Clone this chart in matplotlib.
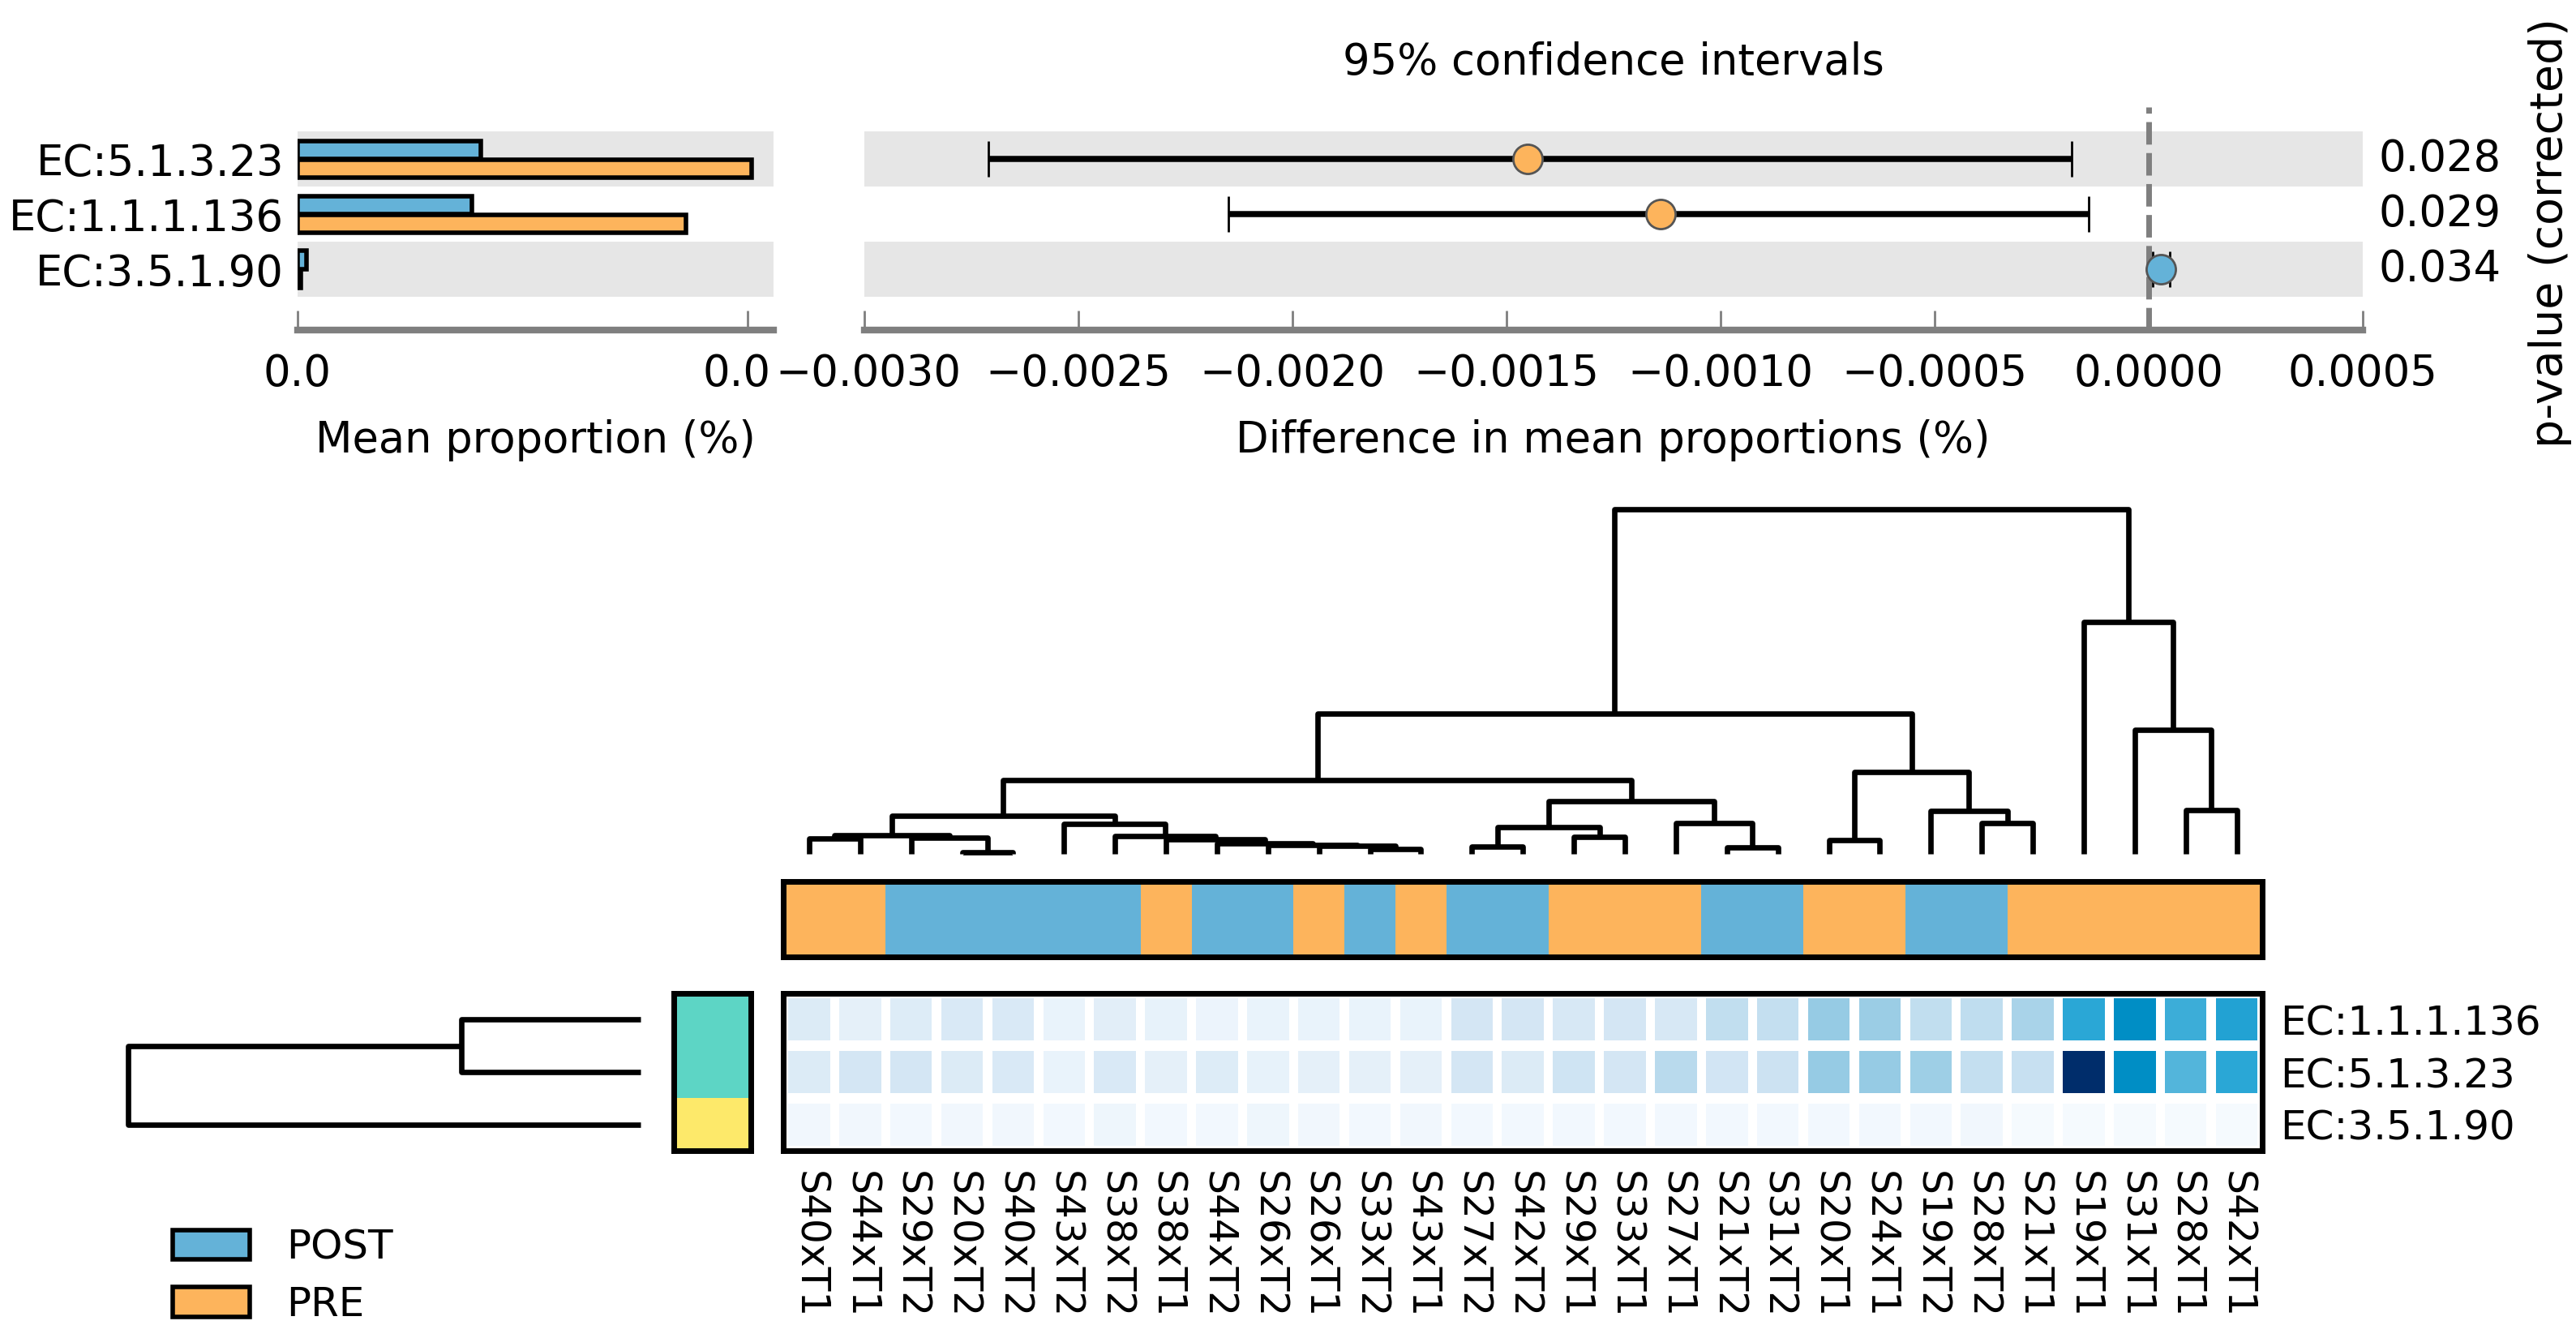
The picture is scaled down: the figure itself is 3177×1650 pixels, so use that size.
import matplotlib
matplotlib.use('Agg')
import matplotlib.pyplot as plt
from matplotlib.colors import LinearSegmentedColormap
from matplotlib.patches import Patch
import matplotlib.transforms as mtransforms

# ---- top panel: extended error bar data ----
ec_names = ['EC:5.1.3.23', 'EC:1.1.1.136', 'EC:3.5.1.90']
post_mean = [0.00098, 0.00093, 0.00005]
pre_mean = [0.00242, 0.00207, 0.00002]
diff_mean = [-0.00145, -0.00114, 0.00003]
ci_low = [-0.00271, -0.00215, 0.00001]
ci_high = [-0.00018, -0.00014, 0.00005]
p_values = [0.028, 0.029, 0.034]

# ---- bottom panel: heatmap data ----
samples = ['S40xT1', 'S44xT1', 'S29xT2', 'S20xT2', 'S40xT2', 'S43xT2', 'S38xT2',
           'S38xT1', 'S44xT2', 'S26xT2', 'S26xT1', 'S33xT2', 'S43xT1', 'S27xT2',
           'S42xT2', 'S29xT1', 'S33xT1', 'S27xT1', 'S21xT2', 'S31xT2', 'S20xT1',
           'S24xT1', 'S19xT2', 'S28xT2', 'S21xT1', 'S19xT1', 'S31xT1', 'S28xT1',
           'S42xT1']
groups = ['PRE', 'PRE', 'POST', 'POST', 'POST', 'POST', 'POST', 'PRE', 'POST',
          'POST', 'PRE', 'POST', 'PRE', 'POST', 'POST', 'PRE', 'PRE', 'PRE',
          'POST', 'POST', 'PRE', 'PRE', 'POST', 'POST', 'PRE', 'PRE', 'PRE',
          'PRE', 'PRE']
hm_rows = ['EC:1.1.1.136', 'EC:5.1.3.23', 'EC:3.5.1.90']
hm_values = [
    [0.12, 0.08, 0.11, 0.13, 0.13, 0.06, 0.09, 0.07, 0.05, 0.06, 0.06, 0.06, 0.06, 0.15,
     0.15, 0.14, 0.15, 0.14, 0.22, 0.21, 0.38, 0.36, 0.22, 0.23, 0.31, 0.62, 0.72, 0.58,
     0.64],
    [0.12, 0.15, 0.15, 0.12, 0.13, 0.06, 0.13, 0.08, 0.11, 0.07, 0.08, 0.08, 0.08, 0.15,
     0.12, 0.17, 0.15, 0.25, 0.16, 0.18, 0.38, 0.38, 0.35, 0.21, 0.20, 1.00, 0.72, 0.53,
     0.62],
    [0.03, 0.03, 0.02, 0.03, 0.03, 0.02, 0.04, 0.02, 0.02, 0.04, 0.03, 0.02, 0.03, 0.02,
     0.02, 0.02, 0.02, 0.02, 0.02, 0.02, 0.02, 0.02, 0.02, 0.03, 0.01, 0.01, 0.01, 0.01,
     0.01],
]
row_clusters = [0, 0, 1]

# column linkage (scipy style: child a, child b, height); ids >= 29 are merges
col_linkage = [
    (3, 4, 0.9), (11, 12, 2.7), (18, 19, 4.0), (13, 14, 4.4), (10, 30, 4.6),
    (9, 33, 5.5), (8, 34, 6.4), (20, 21, 8.3), (7, 35, 8.7), (0, 1, 9.1),
    (2, 29, 9.5), (15, 16, 10.0), (6, 37, 10.9), (38, 39, 11.2), (32, 40, 16.3),
    (5, 41, 18.2), (17, 31, 18.7), (23, 24, 18.7), (42, 44, 22.8), (22, 46, 26.0),
    (27, 28, 26.5), (43, 45, 31.8), (47, 50, 44.6), (36, 48, 49.5), (26, 49, 75.2),
    (51, 52, 84.9), (25, 53, 140.6), (54, 55, 209.0),
]
row_linkage = [(0, 1, 0.35), (3, 2, 1.0)]

POST_C = '#64b2d8'
PRE_C = '#fdb45c'
group_colors = {'POST': POST_C, 'PRE': PRE_C}
cluster_colors = ['#5dd5c5', '#fde96a']
hm_cmap = LinearSegmentedColormap.from_list(
    'hm', [(0.0, '#f7fbff'), (0.15, '#d4e6f4'), (0.38, '#96cbe4'),
           (0.62, '#2aa7d6'), (0.72, '#008fc6'), (1.0, '#002d6b')])


def dendro_lines(n, linkage):
    pos = [float(i) for i in range(n)]
    hgt = [0.0] * n
    out = []
    for a, b, h in linkage:
        out.append(([pos[a], pos[a], pos[b], pos[b]], [hgt[a], h, h, hgt[b]]))
        pos.append((pos[a] + pos[b]) / 2)
        hgt.append(h)
    return out


W, H = 1568.0, 815.0


def box(x0, y0, x1, y1):
    return [x0 / W, 1 - y1 / H, (x1 - x0) / W, (y1 - y0) / H]


plt.rcParams['font.family'] = 'DejaVu Sans'
fig = plt.figure(figsize=(15.885, 8.25), dpi=200)

# ---------- top: mean proportion bars ----------
ylim_top = (3.1, -0.955)
ax_bar = fig.add_axes(box(181, 65, 471, 201))
ax_ci = fig.add_axes(box(526, 65, 1438, 201))
rows = list(range(len(ec_names)))
for ax in (ax_bar, ax_ci):
    for r in rows[::2]:
        ax.axhspan(r - 0.5, r + 0.5, color='#e6e6e6', lw=0, zorder=0)
    ax.set_ylim(ylim_top)
    for s in ('top', 'left', 'right'):
        ax.spines[s].set_visible(False)
    ax.spines['bottom'].set_color('#7f7f7f')
    ax.spines['bottom'].set_linewidth(3)
    ax.tick_params(axis='x', direction='in', length=8.5, width=1, color='#7f7f7f',
                   labelsize=19, pad=10)
    ax.patch.set_alpha(0)

ax_bar.barh([r - 0.17 for r in rows], post_mean, height=0.33, color=POST_C,
            edgecolor='black', linewidth=2, zorder=2)
ax_bar.barh([r + 0.17 for r in rows], pre_mean, height=0.33, color=PRE_C,
            edgecolor='black', linewidth=2, zorder=2)
ax_bar.set_xlim(0, 0.00254)
ax_bar.set_xticks([0, 0.0024])
ax_bar.set_xticklabels(['0.0', '0.0'])
# the right-hand "0.0" sits against the first label of the CI axis; nudge it left
lbl = ax_bar.get_xticklabels()[-1]
lbl.set_transform(lbl.get_transform() +
                  mtransforms.ScaledTranslation(-5 / 72, 0, fig.dpi_scale_trans))
ax_bar.set_yticks(rows)
ax_bar.set_yticklabels(ec_names, fontsize=19)
ax_bar.tick_params(axis='y', length=0, pad=6)
ax_bar.set_xlabel('Mean proportion (%)', fontsize=19)
ax_bar.xaxis.set_label_coords(0.5, -0.40)

# ---------- top: confidence intervals ----------
ax_ci.axvline(0, color='#7f7f7f', ls='--', lw=2.5, dashes=(4, 1.5), zorder=1)
for r in rows:
    col = PRE_C if diff_mean[r] < 0 else POST_C
    eb = ax_ci.errorbar(diff_mean[r], r,
                        xerr=[[diff_mean[r] - ci_low[r]], [ci_high[r] - diff_mean[r]]],
                        fmt='o', ms=13, mfc=col, mec='#555555', mew=1,
                        ecolor='black', elinewidth=2.7, capsize=8, capthick=1, zorder=3)
    for cl in eb[1]:
        cl.set_color('#444444')
ax_ci.set_xlim(-0.003, 0.0005)
ax_ci.set_xticks([-0.003, -0.0025, -0.002, -0.0015, -0.001, -0.0005, 0.0, 0.0005])
ax_ci.set_xticklabels([('%.4f' % v).replace('-', '\u2212') if abs(v) > 1e-12 else '0.0000'
                       for v in ax_ci.get_xticks()])
lbl = ax_ci.get_xticklabels()[0]
lbl.set_transform(lbl.get_transform() +
                  mtransforms.ScaledTranslation(2 / 72, 0, fig.dpi_scale_trans))
ax_ci.set_yticks([])
ax_ci.set_xlabel('Difference in mean proportions (%)', fontsize=19)
ax_ci.xaxis.set_label_coords(0.5, -0.40)
trans = mtransforms.blended_transform_factory(ax_ci.transAxes, ax_ci.transData)
for r in rows:
    ax_ci.text(1.011, r, '%.3f' % p_values[r], transform=trans, fontsize=19,
               va='center', ha='left')
fig.text(982 / W, 1 - 38 / H, '95% confidence intervals', fontsize=19,
         ha='center', va='center')
fig.text(1552 / W, 1 - 142 / H, 'p-value (corrected)', fontsize=20, rotation=90,
         ha='center', va='center')

# ---------- bottom: column dendrogram ----------
ncol = len(samples)
ax_cd = fig.add_axes(box(477, 310, 1377, 520))
for xs, ys in dendro_lines(ncol, col_linkage):
    ax_cd.plot(xs, ys, color='black', lw=2.4, solid_capstyle='butt', clip_on=False)
ax_cd.set_xlim(-0.5, ncol - 0.5)
ax_cd.set_ylim(0, 209.0)
ax_cd.axis('off')

# ---------- bottom: group colour strip ----------
ax_cs = fig.add_axes(box(477, 537, 1377, 583))
ax_cs.bar(range(ncol), 1, width=1.0, color=[group_colors[g] for g in groups],
          linewidth=0)
ax_cs.set_xlim(-0.5, ncol - 0.5)
ax_cs.set_ylim(0, 1)
ax_cs.set_xticks([])
ax_cs.set_yticks([])

# ---------- bottom: heatmap ----------
ax_hm = fig.add_axes(box(477, 605, 1377, 701))
for r, vals in enumerate(hm_values):
    ax_hm.bar(range(ncol), 0.8, width=0.82, bottom=r - 0.4,
              color=[hm_cmap(v) for v in vals], linewidth=0)
ax_hm.set_xlim(-0.5, ncol - 0.5)
ax_hm.set_ylim(len(hm_rows) - 0.5, -0.5)
ax_hm.set_xticks(range(ncol))
ax_hm.set_xticklabels(samples, rotation=270, fontsize=17.5)
ax_hm.yaxis.tick_right()
ax_hm.set_yticks(range(len(hm_rows)))
ax_hm.set_yticklabels(hm_rows, fontsize=18)
ax_hm.tick_params(length=0)
ax_hm.tick_params(axis='x', pad=9)
ax_hm.tick_params(axis='y', pad=8)

# ---------- bottom: row cluster strip ----------
ax_rs = fig.add_axes(box(410, 605, 457, 701))
ax_rs.barh(range(len(hm_rows)), 1, height=1.0,
           color=[cluster_colors[c] for c in row_clusters], linewidth=0)
ax_rs.set_xlim(0, 1)
ax_rs.set_ylim(len(hm_rows) - 0.5, -0.5)
ax_rs.set_xticks([])
ax_rs.set_yticks([])

for ax in (ax_cs, ax_hm, ax_rs):
    for s in ax.spines.values():
        s.set_linewidth(2.5)
        s.set_color('black')

# ---------- bottom: row dendrogram ----------
ax_rd = fig.add_axes(box(78, 605, 390, 701))
for ys, xs in dendro_lines(len(hm_rows), row_linkage):
    ax_rd.plot(xs, ys, color='black', lw=2.4, solid_capstyle='butt', clip_on=False)
ax_rd.set_xlim(1.0, 0.0)
ax_rd.set_ylim(len(hm_rows) - 0.5, -0.5)
ax_rd.axis('off')

# ---------- legend ----------
handles = [Patch(facecolor=POST_C, edgecolor='black', linewidth=2, label='POST'),
           Patch(facecolor=PRE_C, edgecolor='black', linewidth=2, label='PRE')]
fig.legend(handles=handles, loc='upper left', bbox_to_anchor=(105 / W, 1 - 748 / H),
           frameon=False, fontsize=18, handlelength=1.9, handleheight=0.75,
           handletextpad=0.9, labelspacing=0.45, borderpad=0, borderaxespad=0)

fig.savefig('out.png', dpi=200)
